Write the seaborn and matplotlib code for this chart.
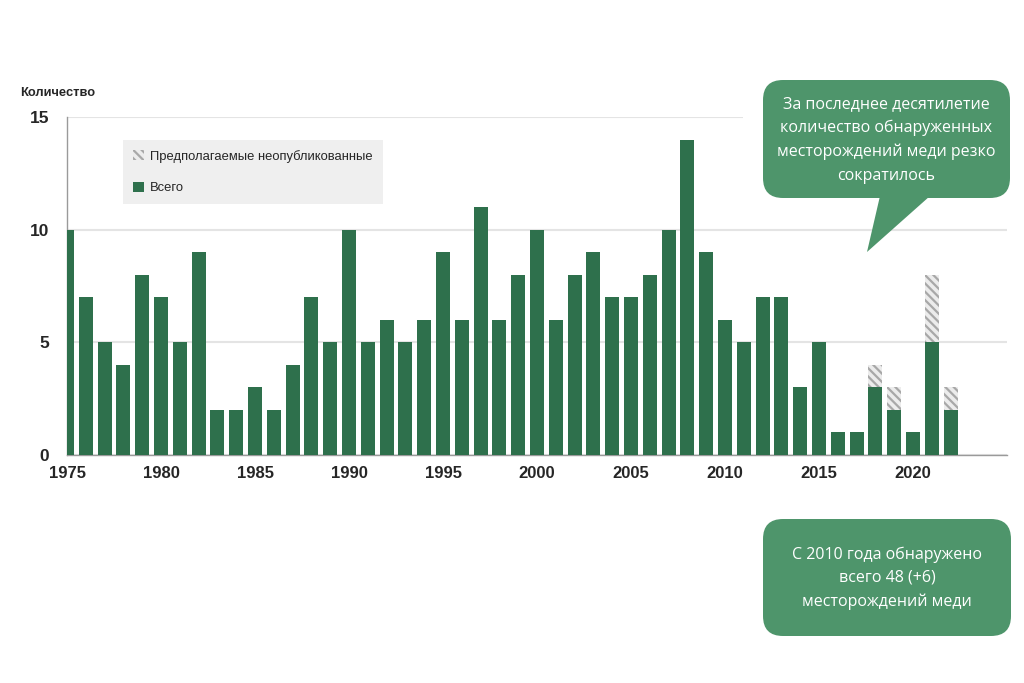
import numpy as np
import seaborn as sns
import matplotlib.pyplot as plt
from matplotlib.patches import Patch, FancyBboxPatch, Polygon, Rectangle

# Copper deposit discoveries per year
years = list(range(1975, 2023))
total = [10, 7, 5, 4, 8, 7, 5, 9, 2, 2, 3, 2, 4, 7, 5, 10, 5, 6, 5, 6,
         9, 6, 11, 6, 8, 10, 6, 8, 9, 7, 7, 8, 10, 14, 9, 6, 5, 7, 7, 3,
         5, 1, 1, 3, 2, 1, 5, 2]
# assumed unpublished discoveries (added on top of total)
unpublished = [0] * 43 + [1, 1, 0, 3, 1]

y_ticks = [0, 5, 10, 15]
x_ticks = [1975, 1980, 1985, 1990, 1995, 2000, 2005, 2010, 2015, 2020, 2025]
x_labels = ["1975", "1980", "1985", "1990", "1995", "2000", "2005", "2010", "2015", "2020", ""]

legend_labels = ["Предполагаемые неопубликованные", "Всего"]
callout_top = "За последнее десятилетие\nколичество обнаруженных\nместорождений меди резко\nсократилось"
callout_bottom = "С 2010 года обнаружено\nвсего 48 (+6)\nместорождений меди"

GREEN = "#2e704c"
BOX_GREEN = "#4e956b"

sns.set_style("white")
plt.rcParams["font.family"] = ["Liberation Sans", "DejaVu Sans"]
plt.rcParams["hatch.linewidth"] = 1.6

fig = plt.figure(figsize=(10.24, 6.83), dpi=100)
ax = fig.add_axes([67 / 1024, 1 - 455 / 683, 940 / 1024, 338 / 683])

with_unpub = [t + u for t, u in zip(total, unpublished)]
sns.barplot(x=years, y=with_unpub, native_scale=True, width=0.75, ax=ax,
            color="#ececec", edgecolor="#a8a8a8", linewidth=0,
            hatch="\\\\\\\\", zorder=2)
sns.barplot(x=years, y=total, native_scale=True, width=0.75, ax=ax,
            color=GREEN, linewidth=0, saturation=1, zorder=3)

ax.set_xlim(1975, 2025)
ax.set_ylim(0, 15)
ax.set_yticks(y_ticks)
ax.set_yticklabels([str(v) for v in y_ticks], fontsize=12.5, fontweight="bold")
ax.set_xticks(x_ticks)
ax.set_xticklabels(x_labels, fontsize=12, fontweight="bold")
ax.tick_params(axis="both", length=5, width=1, color="#999999")
ax.tick_params(axis="y", pad=8)
ax.tick_params(axis="x", pad=3)
ax.yaxis.grid(True, color="#e4e4e4", linewidth=1.5, zorder=0)
ax.set_axisbelow(True)
for s in ["top", "right"]:
    ax.spines[s].set_visible(False)
for s in ["left", "bottom"]:
    ax.spines[s].set_color("#9a9a9a")
    ax.spines[s].set_linewidth(1)
ax.set_xlabel("")
ax.set_ylabel("")

handles = [
    Patch(facecolor="#ececec", edgecolor="#a8a8a8", hatch="\\\\\\\\", linewidth=0),
    Patch(facecolor=GREEN, linewidth=0),
]
leg = ax.legend(handles, legend_labels, loc="upper left",
                bbox_to_anchor=(0.06, 0.932), frameon=True, fancybox=False,
                fontsize=9.4, labelspacing=1.45, handlelength=0.85, handleheight=0.85,
                handletextpad=0.45, borderpad=0.75, borderaxespad=0)
leg.get_frame().set_facecolor("#efefef")
leg.get_frame().set_edgecolor("none")
leg.get_frame().set_alpha(1)
leg.set_zorder(5)

fig.text(20 / 1024, 1 - 93 / 683, "Количество", fontsize=9.3, fontweight="bold",
         va="center", ha="left")

# overlay in pixel units for the callouts
ov = fig.add_axes([0, 0, 1, 1], zorder=10)
ov.set_xlim(0, 1024)
ov.set_ylim(683, 0)
ov.axis("off")
ov.add_patch(Rectangle((743, 108), 275, 18, facecolor="white", edgecolor="none"))
ov.add_patch(FancyBboxPatch((763, 80), 247, 118, boxstyle="round,pad=0,rounding_size=20",
                            facecolor=BOX_GREEN, edgecolor="none"))
ov.add_patch(Polygon([(880, 196), (930, 196), (867, 252)], closed=True,
                     facecolor=BOX_GREEN, edgecolor="none"))
ov.text(886, 140, callout_top, ha="center", va="center", color="white",
        fontsize=11.5, linespacing=1.6, family=["Open Sans", "DejaVu Sans"])
ov.add_patch(FancyBboxPatch((763, 519), 248, 117, boxstyle="round,pad=0,rounding_size=20",
                            facecolor=BOX_GREEN, edgecolor="none"))
ov.text(887, 578, callout_bottom, ha="center", va="center", color="white",
        fontsize=11.5, linespacing=1.6, family=["Open Sans", "DejaVu Sans"])

fig.savefig("out.png", dpi=100)
